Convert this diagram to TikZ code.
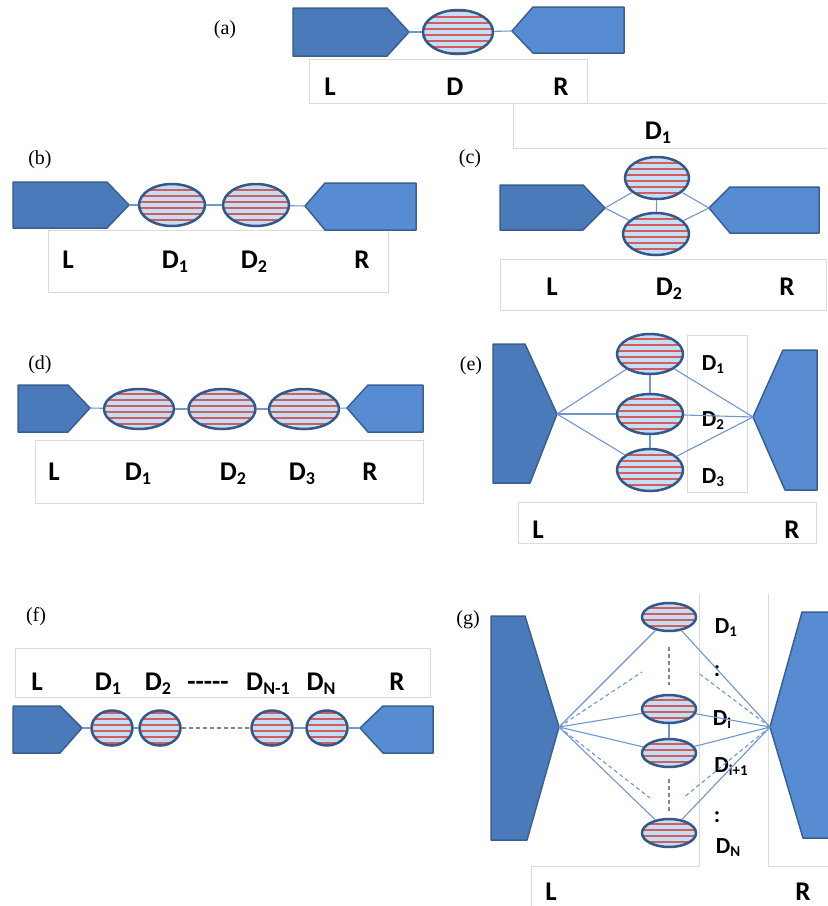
\documentclass[tikz,border=0pt]{standalone}
\usepackage{fontspec}
\setmainfont{Liberation Serif}
\newfontfamily\calfont{Carlito}
\usetikzlibrary{shapes.geometric}
\definecolor{lF}{RGB}{74,122,186}
\definecolor{rF}{RGB}{88,140,210}
\definecolor{shB}{RGB}{58,95,145}
\definecolor{ellB}{RGB}{52,88,135}
\definecolor{ellF}{RGB}{196,222,246}
\definecolor{strC}{RGB}{212,92,92}
\definecolor{conC}{RGB}{112,150,205}
\definecolor{dashC}{RGB}{120,135,160}
\definecolor{boxC}{RGB}{218,218,218}
\newcommand\sbs[1]{\raisebox{-4pt}{\fontsize{18}{18}\selectfont #1}}
\newcommand\ssbs[1]{\raisebox{-3.5pt}{\fontsize{15}{15}\selectfont #1}}
\begin{document}
\begin{tikzpicture}[x=1pt,y=-1pt,
  lshape/.style={fill=lF,draw=shB,line width=1.5pt,line join=round},
  rshape/.style={fill=rF,draw=shB,line width=1.5pt,line join=round},
  dot/.style={ellipse,draw=ellB,line width=2.5pt,fill=ellF,inner sep=0pt,
    path picture={\foreach \k in {-21,-15,...,21}{\draw[strC,line width=1.1pt] ([shift={(-60,\k)}]path picture bounding box.center) -- ++(120,0);}}},
  con/.style={draw=conC,line width=1.1pt},
  dcon/.style={draw=dashC,line width=1.1pt,dash pattern=on 4pt off 3pt},
  bdcon/.style={draw=conC,line width=1.1pt,dash pattern=on 4pt off 3pt},
  frame/.style={draw=boxC,line width=1pt},
  lbl/.style={font=\calfont\bfseries\fontsize{27}{27}\selectfont,inner sep=0pt,anchor=base},
  slbl/.style={font=\calfont\bfseries\fontsize{23}{23}\selectfont,inner sep=0pt,anchor=base},
  tag/.style={font=\fontsize{20}{20}\selectfont,inner sep=0pt}]
\useasboundingbox (0,0) rectangle (828,906);

% ---------------- (a)
\node[tag] (ta) at (225,30) {(a)};
\draw[frame] (309,59) rectangle (587,103);
\draw[frame] (827,103) -- (513,103) -- (513,148) -- (827,148);
\draw[lshape] (293,8) -- (387,8) -- (409,32) -- (387,56) -- (293,56) -- cycle;
\draw[rshape] (624,7) -- (533,7) -- (512,31) -- (533,53) -- (624,53) -- cycle;
\coordinate (aLt) at (409,32);
\coordinate (aRt) at (512,31);
\node[dot,minimum width=70pt,minimum height=44pt] (aD) at (458,32) {};
\draw[con] (aLt) -- (aD);
\draw[con] (aD) -- (aRt);
\node[lbl] (aL) at (330,95) {L};
\node[lbl] (aDl) at (455,95) {D};
\node[lbl] (aR) at (561,95) {R};
\node[lbl] (aD1) at (658,139) {D\sbs{1}};

% ---------------- (b)
\node[tag] (tb) at (40,160) {(b)};
\draw[frame] (48,230) rectangle (388,292);
\draw[lshape] (13,182) -- (107,182) -- (129,205) -- (107,228) -- (13,228) -- cycle;
\draw[rshape] (416,183) -- (325,183) -- (305,206) -- (325,230) -- (416,230) -- cycle;
\coordinate (bLt) at (129,205);
\coordinate (bRt) at (305,206);
\node[dot,minimum width=66pt,minimum height=42pt] (bD1) at (172,205) {};
\node[dot,minimum width=66pt,minimum height=42pt] (bD2) at (256,205) {};
\draw[con] (bLt) -- (bD1);
\draw[con] (bD1) -- (bD2);
\draw[con] (bD2) -- (bRt);
\node[lbl] (bL) at (68,268) {L};
\node[lbl] (bD1l) at (175,268) {D\sbs{1}};
\node[lbl] (bD2l) at (254,268) {D\sbs{2}};
\node[lbl] (bR) at (362,268) {R};

% ---------------- (c)
\node[tag] (tc) at (470,159) {(c)};
\draw[frame] (500,259) rectangle (826,310);
\draw[lshape] (500,185) -- (583,185) -- (605,208) -- (583,230) -- (500,230) -- cycle;
\draw[rshape] (819,187) -- (730,187) -- (709,208) -- (730,233) -- (819,233) -- cycle;
\coordinate (cLt) at (605,208);
\coordinate (cRt) at (709,208);
\node[dot,minimum width=64pt,minimum height=42pt] (cT) at (657,178) {};
\node[dot,minimum width=66pt,minimum height=42pt] (cB) at (656,234) {};
\draw[con] (cLt) -- (cT);
\draw[con] (cLt) -- (cB);
\draw[con] (cT) -- (cB);
\draw[con] (cRt) -- (cT);
\draw[con] (cRt) -- (cB);
\node[lbl] (cL) at (552,295) {L};
\node[lbl] (cD2) at (669,295) {D\sbs{2}};
\node[lbl] (cR) at (787,295) {R};

% ---------------- (d)
\node[tag] (td) at (40,365) {(d)};
\draw[frame] (35,440) rectangle (423,503);
\draw[lshape] (18,385) -- (68,385) -- (90,408) -- (68,432) -- (18,432) -- cycle;
\draw[rshape] (423,385) -- (368,385) -- (347,408) -- (368,432) -- (423,432) -- cycle;
\coordinate (dLt) at (90,408);
\coordinate (dRt) at (347,408);
\node[dot,minimum width=70pt,minimum height=40pt] (dD1) at (139,409) {};
\node[dot,minimum width=67pt,minimum height=40pt] (dD2) at (222,409) {};
\node[dot,minimum width=70pt,minimum height=40pt] (dD3) at (304,409) {};
\draw[con] (dLt) -- (dD1);
\draw[con] (dD1) -- (dD2);
\draw[con] (dD2) -- (dD3);
\draw[con] (dD3) -- (dRt);
\node[lbl] (dL) at (54,480) {L};
\node[lbl] (dD1l) at (138,480) {D\sbs{1}};
\node[lbl] (dD2l) at (233,480) {D\sbs{2}};
\node[lbl] (dD3l) at (302,480) {D\sbs{3}};
\node[lbl] (dR) at (370,480) {R};

% ---------------- (e)
\node[tag] (te) at (471,366) {(e)};
\draw[frame] (687,335) rectangle (747,492);
\draw[frame] (518,502) rectangle (816,543);
\draw[lshape] (493,344) -- (525,344) -- (557,414) -- (530,483) -- (493,483) -- cycle;
\draw[rshape] (817,350) -- (783,350) -- (753,417) -- (785,490) -- (817,490) -- cycle;
\coordinate (eLt) at (557,414);
\coordinate (eRt) at (753,417);
\node[slbl] (eD1l) at (713,370) {D\ssbs{1}};
\node[slbl] (eD2l) at (713,426) {D\ssbs{2}};
\node[slbl] (eD3l) at (713,483) {D\ssbs{3}};
\node[dot,minimum width=66pt,minimum height=40pt] (eD1) at (650,354) {};
\node[dot,minimum width=66pt,minimum height=40pt] (eD2) at (650,414) {};
\node[dot,minimum width=66pt,minimum height=42pt] (eD3) at (650,470) {};
\draw[con] (eLt) -- (eD1);
\draw[con] (eLt) -- (eD2);
\draw[con] (eLt) -- (eD3);
\draw[con] (eD1) -- (eD2);
\draw[con] (eD2) -- (eD3);
\draw[con] (eRt) -- (eD1);
\draw[con] (eRt) -- (eD2);
\draw[con] (eRt) -- (eD3);
\node[lbl] (eL) at (538,538) {L};
\node[lbl] (eR) at (792,538) {R};

% ---------------- (f)
\node[tag] (tf) at (36,617) {(f)};
\draw[frame] (15,648) rectangle (430,697);
\node[lbl] (fL) at (37,690) {L};
\node[lbl] (fD1l) at (108,690) {D\sbs{1}};
\node[lbl] (fD2l) at (158,690) {D\sbs{2}};
\node[lbl] (fdots) at (208,690) {-----};
\node[lbl] (fD3l) at (268,690) {D\sbs{N-1}};
\node[lbl] (fD4l) at (321,690) {D\sbs{N}};
\node[lbl] (fR) at (397,690) {R};
\draw[lshape] (13,706) -- (60,706) -- (82,728) -- (60,753) -- (13,753) -- cycle;
\draw[rshape] (433,706) -- (383,706) -- (360,728) -- (383,753) -- (433,753) -- cycle;
\coordinate (fLt) at (82,728);
\coordinate (fRt) at (360,728);
\node[dot,minimum width=41pt,minimum height=35pt] (fD1) at (112,728) {};
\node[dot,minimum width=41pt,minimum height=35pt] (fD2) at (160,728) {};
\node[dot,minimum width=41pt,minimum height=35pt] (fD3) at (272,728) {};
\node[dot,minimum width=41pt,minimum height=35pt] (fD4) at (327,728) {};
\draw[con] (fLt) -- (fD1);
\draw[con] (fD1) -- (fD2);
\draw[dcon] (fD2) -- (fD3);
\draw[con] (fD3) -- (fD4);
\draw[con] (fD4) -- (fRt);

% ---------------- (g)
\node[tag] (tg) at (468,620) {(g)};
\draw[frame] (531,910) -- (531,866) -- (699,866) -- (699,594);
\draw[frame] (768,594) -- (768,866) -- (832,866);
\draw[lshape] (491,616) -- (525,616) -- (559,727) -- (527,840) -- (491,840) -- cycle;
\draw[rshape] (840,612) -- (802,612) -- (770,727) -- (803,838) -- (840,838);
\coordinate (gLt) at (559,727);
\coordinate (gRt) at (770,727);
\node[slbl] (gD1l) at (726,633) {D\ssbs{1}};
\node[slbl] (gc1) at (717,676) {:};
\node[slbl] (gDil) at (722,725) {D\ssbs{i}};
\node[slbl] (gDi1l) at (731,772) {D\ssbs{i+1}};
\node[slbl] (gc2) at (717,822) {:};
\node[slbl] (gDNl) at (728,853) {D\ssbs{N}};
\node[dot,minimum width=54pt,minimum height=28pt] (gD1) at (669,617) {};
\node[dot,minimum width=54pt,minimum height=28pt] (gDi) at (669,709) {};
\node[dot,minimum width=54pt,minimum height=28pt] (gDi1) at (669,753) {};
\node[dot,minimum width=54pt,minimum height=28pt] (gDN) at (669,833) {};
\coordinate (gv1a) at (669,647);
\coordinate (gv1b) at (669,685);
\coordinate (gv2a) at (669,779);
\coordinate (gv2b) at (669,812);
\coordinate (gLu) at (642,672);
\coordinate (gLd) at (650,798);
\coordinate (gRu) at (697,672);
\coordinate (gRd) at (683,798);
\draw[dcon] (gv1a) -- (gv1b);
\draw[dcon] (gv2a) -- (gv2b);
\draw[con] (gDi) -- (gDi1);
\draw[con] (gLt) -- (gD1);
\draw[con] (gLt) -- (gDi);
\draw[con] (gLt) -- (gDi1);
\draw[con] (gLt) -- (gDN);
\draw[bdcon] (gLt) -- (gLu);
\draw[bdcon] (gLt) -- (gLd);
\draw[con] (gRt) -- (gD1);
\draw[con] (gRt) -- (gDi);
\draw[con] (gRt) -- (gDi1);
\draw[con] (gRt) -- (gDN);
\draw[bdcon] (gRt) -- (gRu);
\draw[bdcon] (gRt) -- (gRd);
\node[lbl,text depth=0pt] (gL) at (551,900) {L};
\node[lbl,text depth=0pt] (gR) at (803,900) {R};
\end{tikzpicture}
\end{document}
